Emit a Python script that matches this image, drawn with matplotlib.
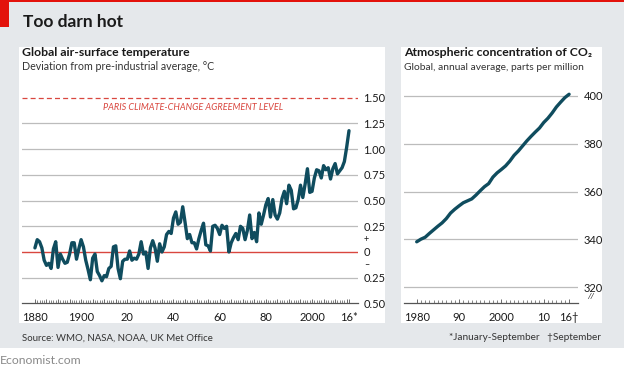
import matplotlib
matplotlib.use('Agg')
import matplotlib.pyplot as plt
from matplotlib.patches import Rectangle
from matplotlib.ticker import FixedLocator, FixedFormatter

plt.rcParams['font.family'] = ['Lato', 'DejaVu Sans']

# ---------------- data ----------------
temp_years = list(range(1880, 2017))
temp_values = [
    0.04, 0.12, 0.10, 0.04, -0.08, -0.13, -0.11, -0.16, 0.03, 0.10,      # 1880s
    -0.15, -0.02, -0.07, -0.11, -0.10, -0.02, 0.09, 0.09, -0.07, 0.03,   # 1890s
    0.12, 0.05, -0.08, -0.17, -0.27, -0.06, -0.02, -0.19, -0.23, -0.28,  # 1900s
    -0.23, -0.24, -0.16, -0.14, 0.05, 0.06, -0.16, -0.26, -0.09, -0.07,  # 1910s
    -0.07, 0.01, -0.08, -0.06, -0.07, -0.02, 0.10, -0.02, 0.00, -0.16,   # 1920s
    0.04, 0.11, 0.04, -0.09, 0.08, 0.00, 0.05, 0.17, 0.20, 0.18,         # 1930s
    0.33, 0.39, 0.27, 0.29, 0.44, 0.29, 0.13, 0.17, 0.09, 0.09,          # 1940s
    0.03, 0.13, 0.21, 0.28, 0.07, 0.06, 0.01, 0.25, 0.26, 0.23,          # 1950s
    0.17, 0.26, 0.23, 0.25, 0.00, 0.09, 0.14, 0.18, 0.12, 0.25,          # 1960s
    0.23, 0.12, 0.21, 0.36, 0.13, 0.19, 0.10, 0.38, 0.27, 0.36,          # 1970s
    0.46, 0.52, 0.34, 0.51, 0.36, 0.32, 0.38, 0.52, 0.59, 0.47,          # 1980s
    0.65, 0.60, 0.42, 0.43, 0.51, 0.65, 0.53, 0.66, 0.81, 0.58,          # 1990s
    0.59, 0.72, 0.80, 0.79, 0.72, 0.84, 0.80, 0.82, 0.71, 0.81,          # 2000s
    0.86, 0.76, 0.79, 0.82, 0.88, 1.02, 1.18,                            # 2010s
]
co2_years = list(range(1980, 2017))
co2_values = [
    339.0, 340.1, 340.9, 342.5, 344.0, 345.5, 346.9, 348.7, 351.0, 352.6,
    354.0, 355.3, 356.1, 356.9, 358.5, 360.3, 362.0, 363.3, 366.0, 367.8,
    369.2, 370.7, 372.7, 375.1, 376.9, 379.0, 381.1, 383.0, 384.8, 386.5,
    388.8, 390.6, 392.8, 395.3, 397.3, 399.2, 400.6,
]

temp_yticks = [-0.5, -0.25, 0, 0.25, 0.5, 0.75, 1.0, 1.25, 1.5]
temp_yticklabels = ['0.50', '0.25', '0', '0.25', '0.50', '0.75', '1.00', '1.25', '1.50']
temp_xlabel_pos = [1880, 1900, 1920, 1940, 1960, 1980, 2000, 2016]
temp_xlabels = ['1880', '1900', '20', '40', '60', '80', '2000', '16*']
paris_level = 1.5

co2_yticks = [320, 340, 360, 380, 400]
co2_yticklabels = ['320', '340', '360', '380', '400']
co2_xlabel_pos = [1980, 1990, 2000, 2010, 2016]
co2_xlabels = ['1980', '90', '2000', '10', '16\u2020']

# ---------------- style ----------------
W, H = 624, 370
BG = '#e5e8eb'
RED = '#e3120b'
LINE = '#0f4c5e'
GRID = '#bcbcbc'
TXT = '#1a1a1a'
PARIS = '#d9473f'

def fx(x):
    return x / W

def fy(y):
    return 1 - y / H

fig = plt.figure(figsize=(W / 100, H / 100), dpi=100)
fig.patch.set_facecolor('white')

# background panels
fig.patches.append(Rectangle((0, fy(348)), 1, 1 - fy(348), transform=fig.transFigure,
                             facecolor=BG, edgecolor='none', zorder=-10))
fig.patches.append(Rectangle((0, fy(2)), 1, fy(0) - fy(2), transform=fig.transFigure,
                             facecolor=RED, edgecolor='none', zorder=-9))
fig.patches.append(Rectangle((0, fy(27)), fx(9), fy(0) - fy(27), transform=fig.transFigure,
                             facecolor=RED, edgecolor='none', zorder=-9))
fig.patches.append(Rectangle((fx(19), fy(323)), fx(385) - fx(19), fy(47) - fy(323),
                             transform=fig.transFigure, facecolor='white', edgecolor='none', zorder=-8))
fig.patches.append(Rectangle((fx(401), fy(323)), fx(602) - fx(401), fy(47) - fy(323),
                             transform=fig.transFigure, facecolor='white', edgecolor='none', zorder=-8))

# titles
fig.text(fx(23), fy(22), 'Too darn hot', fontsize=12.5, fontweight='bold', color=TXT, va='center')
fig.text(fx(22), fy(52), 'Global air-surface temperature', fontsize=8.8, fontweight='bold', color=TXT, va='center')
fig.text(fx(22), fy(67), 'Deviation from pre-industrial average, \u00b0C', fontsize=7.7, color='#333333', va='center')
fig.text(fx(404), fy(53), 'Atmospheric concentration of CO\u2082', fontsize=8.8, fontweight='bold', color=TXT, va='center')
fig.text(fx(404), fy(67.5), 'Global, annual average, parts per million', fontsize=7.4, color='#333333', va='center')
fig.text(fx(22), fy(338), 'Source: WMO, NASA, NOAA, UK Met Office', fontsize=6.9, color='#333333', va='center')
fig.text(fx(601), fy(338), '*January-September   \u2020September', fontsize=7.2, color='#333333',
         va='center', ha='right')
fig.text(fx(0), fy(360), 'Economist.com', fontsize=8.8, color='#8a8a8a', va='center')

# ---------------- left chart ----------------
y_top = 87.5
ax1 = fig.add_axes([fx(22), fy(303.4), fx(358) - fx(22), fy(y_top) - fy(303.4)])
ax1.set_facecolor('none')
ax1.set_xlim(1874.4, 2019.9)
ax1.set_ylim(-0.5, -0.5 + (303.4 - y_top) / 102.8)
for v in temp_yticks[1:]:
    if v == 0:
        ax1.axhline(v, color=PARIS, lw=1.0, zorder=1)
    elif v == paris_level:
        ax1.axhline(v, color=PARIS, lw=0.9, ls=(0, (4, 2.5)), zorder=1)
    else:
        ax1.axhline(v, color=GRID, lw=0.9, zorder=1)
ax1.plot(temp_years, temp_values, color=LINE, lw=2.4, solid_joinstyle='round', solid_capstyle='round', zorder=3)
ax1.text((temp_years[0] + temp_years[-1]) / 2 + 0.5, 1.41, 'PARIS CLIMATE-CHANGE AGREEMENT LEVEL',
         fontsize=6.6, style='italic', color=PARIS, ha='center', va='center')

ax1.yaxis.tick_right()
ax1.set_yticks(temp_yticks)
ax1.set_yticklabels(temp_yticklabels)
ax1.tick_params(axis='y', length=0, pad=4, labelsize=8, labelcolor=TXT)
for sp in ['top', 'left', 'right']:
    ax1.spines[sp].set_visible(False)
ax1.spines['bottom'].set_color('#555555')
ax1.spines['bottom'].set_linewidth(0.9)

major_x = list(range(1880, 2016, 5)) + [2016]
major_lbl = [temp_xlabels[temp_xlabel_pos.index(p)] if p in temp_xlabel_pos else '' for p in major_x]
ax1.xaxis.set_major_locator(FixedLocator(major_x))
ax1.xaxis.set_major_formatter(FixedFormatter(major_lbl))
ax1.xaxis.set_minor_locator(FixedLocator(temp_years))
ax1.tick_params(axis='x', which='major', direction='in', length=3.2, width=0.6, color='#555555',
                pad=6, labelsize=8, labelcolor=TXT)
ax1.tick_params(axis='x', which='minor', direction='in', length=2.0, width=0.5, color='#555555')

# plus / minus signs around zero label
ax1.annotate('+', xy=(1, 0), xycoords=ax1.get_yaxis_transform(), xytext=(6, 9),
             textcoords='offset points', fontsize=6.5, color=TXT, ha='center', va='center')
ax1.annotate('\u2013', xy=(1, 0), xycoords=ax1.get_yaxis_transform(), xytext=(6, -9),
             textcoords='offset points', fontsize=6.5, color=TXT, ha='center', va='center')

# ---------------- right chart ----------------
ppx = 2.395
ax2 = fig.add_axes([fx(404), fy(303.4), fx(578) - fx(404), fy(y_top) - fy(303.4)])
ax2.set_facecolor('none')
ax2.set_xlim(1977.0, 2018.1)
ax2.set_ylim(320 - (303.4 - 287.3) / ppx, 320 + (287.3 - y_top) / ppx)
for v in co2_yticks:
    ax2.axhline(v, color=GRID, lw=0.9, zorder=1)
ax2.plot(co2_years, co2_values, color=LINE, lw=2.4, solid_joinstyle='round', solid_capstyle='round', zorder=3)
ax2.yaxis.tick_right()
ax2.set_yticks(co2_yticks)
ax2.set_yticklabels(co2_yticklabels)
ax2.tick_params(axis='y', length=0, pad=4, labelsize=8, labelcolor=TXT)
for sp in ['top', 'left', 'right']:
    ax2.spines[sp].set_visible(False)
ax2.spines['bottom'].set_color('#555555')
ax2.spines['bottom'].set_linewidth(0.9)
ax2.xaxis.set_major_locator(FixedLocator(co2_xlabel_pos))
ax2.xaxis.set_major_formatter(FixedFormatter(co2_xlabels))
ax2.xaxis.set_minor_locator(FixedLocator(co2_years))
ax2.tick_params(axis='x', which='major', direction='in', length=3.2, width=0.6, color='#555555',
                pad=6, labelsize=8, labelcolor=TXT)
ax2.tick_params(axis='x', which='minor', direction='in', length=2.0, width=0.5, color='#555555')
ax2.annotate('//', xy=(1, 0), xycoords='axes fraction', xytext=(9, 5), textcoords='offset points',
             fontsize=6, color=TXT, ha='center', va='center', style='italic')

fig.savefig('out.png', dpi=100, facecolor=fig.get_facecolor())
